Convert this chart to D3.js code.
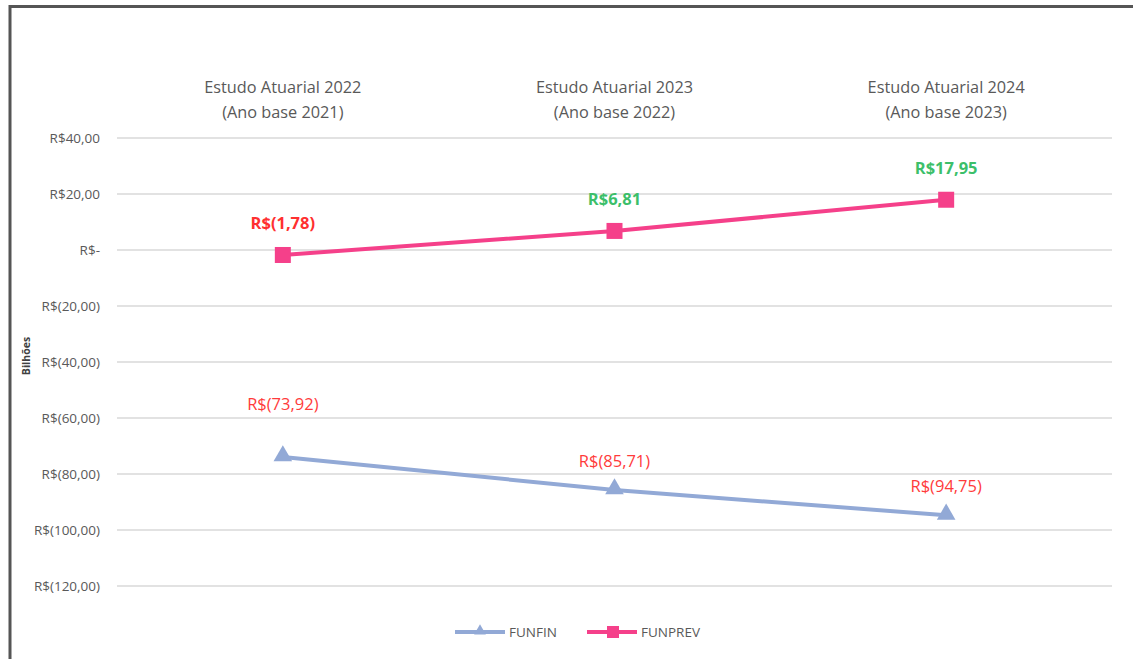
<!DOCTYPE html>
<html>
<head>
<meta charset="utf-8">
<script src="https://cdn.jsdelivr.net/npm/d3@7"></script>
<style>
body{margin:0;background:#fff;}
text{font-family:"Open Sans","Noto Sans",sans-serif;}
</style>
</head>
<body>
<svg id="chart" width="1133" height="659"></svg>
<script>
// dados
var categorias = ["Estudo Atuarial 2022|(Ano base 2021)", "Estudo Atuarial 2023|(Ano base 2022)", "Estudo Atuarial 2024|(Ano base 2023)"];
var funfin = [-73.92, -85.71, -94.75];
var funprev = [-1.78, 6.81, 17.95];
var ticks_y = [40, 20, 0, -20, -40, -60, -80, -100, -120];

var svg = d3.select("#chart");

// moldura
svg.append("line").attr("x1",9).attr("x2",1133).attr("y1",6.5).attr("y2",6.5)
    .style("stroke","#555").style("stroke-width",3);
svg.append("line").attr("x1",10).attr("x2",10).attr("y1",5).attr("y2",659)
    .style("stroke","#555").style("stroke-width",3);

var x = d3.scaleBand().domain(categorias).range([117,1112]);
var y = d3.scaleLinear().domain([-120,40]).range([586,138]);

function fmt(v){
    if(v==0) return "R$-";
    var s = d3.format(",.2f")(Math.abs(v)).replace(/,/g,"#").replace(".",",").replace(/#/g,".");
    return v<0 ? "R$("+s+")" : "R$"+s;
}

// grade
svg.selectAll(".grid").data(ticks_y).join("line")
    .attr("x1",117).attr("x2",1112)
    .attr("y1",d=>y(d)).attr("y2",d=>y(d))
    .style("stroke","#d9d9d9").style("stroke-width",1.5);

svg.selectAll(".ytick").data(ticks_y).join("text")
    .attr("x",100).attr("y",d=>y(d)+4.5)
    .attr("text-anchor","end")
    .style("font-size","13.5px").style("fill","#595959")
    .text(d=>fmt(d));

svg.append("text")
    .attr("transform","translate(30,356) rotate(-90)")
    .attr("text-anchor","middle")
    .style("font-size","10.5px").style("font-weight","bold").style("fill","#404040")
    .text("Bilhões");

// categorias no topo
categorias.forEach(function(c){
    var partes = c.split("|");
    var cx = x(c)+x.bandwidth()/2;
    partes.forEach(function(p,i){
        svg.append("text").attr("x",cx).attr("y",93+i*25)
            .attr("text-anchor","middle")
            .style("font-size","16.3px").style("fill","#595959")
            .text(p);
    });
});

var cx = (d,i)=>x(categorias[i])+x.bandwidth()/2;
var linha = d3.line().x(cx).y(d=>y(d));

// FUNFIN
svg.append("path").datum(funfin).attr("d",linha)
    .style("fill","none").style("stroke","#92a9d6").style("stroke-width",4);
var tri = d3.symbol().type(d3.symbolTriangle).size(150);
svg.selectAll(".tri").data(funfin).join("path")
    .attr("d",tri).attr("transform",(d,i)=>"translate("+cx(d,i)+","+(y(d)-1)+")")
    .style("fill","#92a9d6");
svg.selectAll(".lblfin").data(funfin).join("text")
    .attr("x",cx).attr("y",(d,i)=>y(d)-(i==0?47:23))
    .attr("text-anchor","middle")
    .style("font-size","16.5px").style("fill","#ff3b3b")
    .text(d=>fmt(d));

// FUNPREV
svg.append("path").datum(funprev).attr("d",linha)
    .style("fill","none").style("stroke","#f5408a").style("stroke-width",4);
svg.selectAll(".sq").data(funprev).join("rect")
    .attr("x",(d,i)=>cx(d,i)-8).attr("y",d=>y(d)-8)
    .attr("width",16).attr("height",16)
    .style("fill","#f5408a");
svg.selectAll(".lblprev").data(funprev).join("text")
    .attr("x",cx).attr("y",d=>y(d)-26)
    .attr("text-anchor","middle")
    .style("font-size","16.5px").style("font-weight","bold")
    .style("fill",d=>d<0?"#ff3030":"#3cbf6a")
    .text(d=>fmt(d));

// legenda
var leg = [{nome:"FUNFIN",cor:"#92a9d6",x0:455,tipo:"tri"},{nome:"FUNPREV",cor:"#f5408a",x0:587,tipo:"sq"}];
leg.forEach(function(l){
    svg.append("line").attr("x1",l.x0).attr("x2",l.x0+50).attr("y1",632).attr("y2",632)
        .style("stroke",l.cor).style("stroke-width",4);
    if(l.tipo=="tri"){
        svg.append("path").attr("d",d3.symbol().type(d3.symbolTriangle).size(60)())
            .attr("transform","translate("+(l.x0+25)+",631)").style("fill",l.cor);
    } else {
        svg.append("rect").attr("x",l.x0+20).attr("y",626).attr("width",12).attr("height",12)
            .style("fill",l.cor);
    }
    svg.append("text").attr("x",l.x0+54).attr("y",637)
        .style("font-size","13.5px").style("fill","#595959").text(l.nome);
});
</script>
</body>
</html>
